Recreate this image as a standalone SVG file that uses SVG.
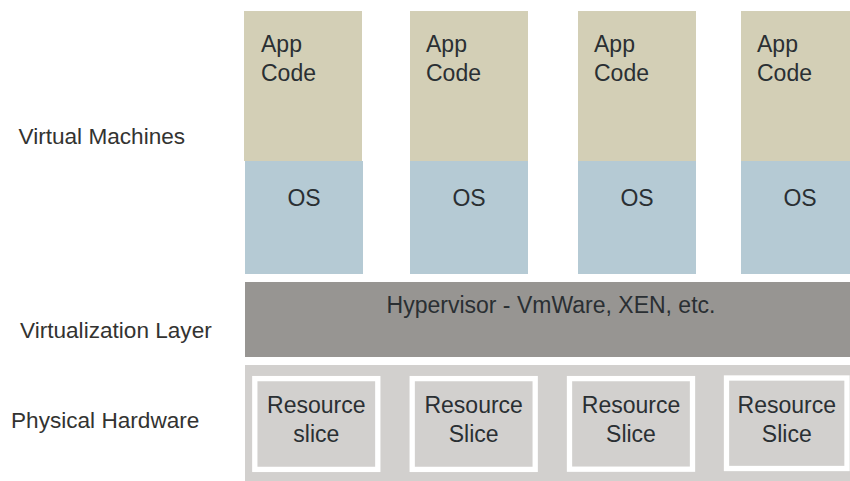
<svg xmlns="http://www.w3.org/2000/svg" width="850" height="481" viewBox="0 0 850 481">
<style>
text { font-family: "Liberation Sans", Arial, sans-serif; font-size: 23px; fill: #2a2f33; }
.lbl { fill: #333331; font-size: 22.6px; }
.mid { text-anchor: middle; }
.app { fill: #d3cfb6; }
.os { fill: #b5cad4; }
.hyp { fill: #979592; }
.phys { fill: #d2d0ce; }
.slice { fill: #d2d0ce; stroke: #ffffff; stroke-width: 5.3; }
</style>
<rect width="850" height="481" fill="#ffffff"/>
<g id="labels">
<text class="lbl" x="18.5" y="144">Virtual Machines</text>
<text class="lbl" x="20" y="338">Virtualization Layer</text>
<text class="lbl" x="11" y="427.5">Physical Hardware</text>
</g>
<g id="vm1">
<rect class="app" x="244" y="11" width="118" height="150"/>
<rect class="os" x="245" y="161" width="118" height="113"/>
<text x="261" y="52">App</text><text x="261" y="81">Code</text>
<text class="mid" x="304" y="205.5">OS</text>
</g>
<g id="vm2">
<rect class="app" x="410" y="11" width="118" height="150"/>
<rect class="os" x="410" y="161" width="118" height="113"/>
<text x="426" y="52">App</text><text x="426" y="81">Code</text>
<text class="mid" x="469" y="205.5">OS</text>
</g>
<g id="vm3">
<rect class="app" x="578" y="11" width="118" height="150"/>
<rect class="os" x="578" y="161" width="118" height="113"/>
<text x="594" y="52">App</text><text x="594" y="81">Code</text>
<text class="mid" x="637" y="205.5">OS</text>
</g>
<g id="vm4">
<rect class="app" x="741" y="11" width="118" height="150"/>
<rect class="os" x="741" y="161" width="118" height="113"/>
<text x="757" y="52">App</text><text x="757" y="81">Code</text>
<text class="mid" x="800" y="205.5">OS</text>
</g>
<g id="hypervisor">
<rect class="hyp" x="245" y="282" width="605" height="75"/>
<text class="mid" x="551" y="313">Hypervisor - VmWare, XEN, etc.</text>
</g>
<g id="physical">
<rect class="phys" x="245" y="365" width="605" height="116"/>
</g>
<g id="slice1">
<rect class="slice" x="254.8" y="378.6" width="123" height="90.8"/>
<text class="mid" x="316.3" y="413">Resource</text><text class="mid" x="316.3" y="441.7">slice</text>
</g>
<g id="slice2">
<rect class="slice" x="412.2" y="378.6" width="123" height="90.8"/>
<text class="mid" x="473.7" y="413">Resource</text><text class="mid" x="473.7" y="441.7">Slice</text>
</g>
<g id="slice3">
<rect class="slice" x="569.5" y="378.6" width="123" height="90.6"/>
<text class="mid" x="631" y="413">Resource</text><text class="mid" x="631" y="441.7">Slice</text>
</g>
<g id="slice4">
<rect class="slice" x="726.5" y="378" width="120.5" height="90.5"/>
<text class="mid" x="786.8" y="413">Resource</text><text class="mid" x="786.8" y="441.7">Slice</text>
</g>
<g id="connectors"/>
</svg>
